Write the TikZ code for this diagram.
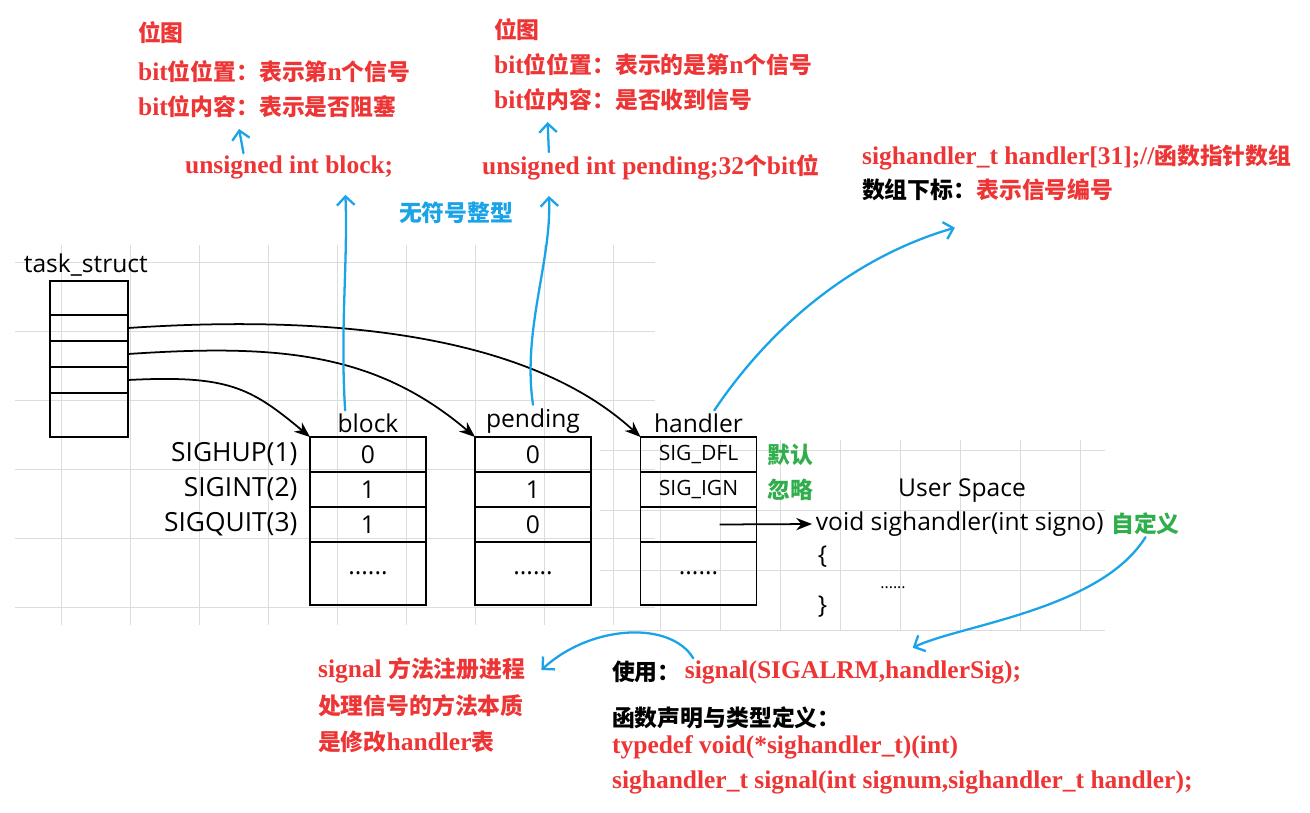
\documentclass[tikz,border=0pt]{standalone}
\usepackage{fontspec}
\setmainfont{Liberation Serif}
\newfontfamily\zhfont{Noto Sans CJK SC}
\newfontfamily\handfont{Open Sans}
\usetikzlibrary{arrows.meta,positioning,calc}
\definecolor{sigred}{HTML}{EE3535}
\definecolor{penblue}{HTML}{1AA3E6}
\definecolor{okgreen}{HTML}{2FAE4B}
\definecolor{gridgray}{HTML}{DCDCDC}
\newcommand{\zh}[1]{{\zhfont\bfseries\fontsize{13}{15}\selectfont #1}}
\tikzset{
  hand/.style={font=\handfont\fontsize{14}{16}\selectfont, inner sep=2pt},
  siglbl/.style={hand, font=\handfont\fontsize{15}{17}\selectfont},
  cell/.style={hand, draw, line width=0.9pt, minimum width=2.32cm, minimum height=0.7cm,
               inner sep=0pt, outer sep=0pt},
  tsrow/.style={draw, line width=0.9pt, minimum width=1.56cm, inner sep=0pt, outer sep=0pt},
  note/.style={font=\bfseries\fontsize{14.5}{16}\selectfont, text=sigred, anchor=west, inner sep=1pt},
  blknote/.style={note, text=black},
  bluenote/.style={note, text=penblue},
  greennote/.style={font=\fontsize{13}{15}\selectfont, text=okgreen, inner sep=1pt},
  ptr/.style={-{Stealth[length=9pt,width=7pt]}, line width=1pt},
  pen/.style={-{Straight Barb[length=5pt,width=10pt]}, draw=penblue, line width=1.3pt, line cap=round},
  gridline/.style={draw=gridgray, line width=0.5pt}
}
\begin{document}
\begin{tikzpicture}[x=0.02cm,y=-0.02cm]
\useasboundingbox (0,0) rectangle (1310,812);
% background grid
\foreach \gx in {61,130,...,650} \draw[gridline] (\gx,245) -- (\gx,625);
\foreach \gy in {262,331,...,620} \draw[gridline] (15,\gy) -- (655,\gy);
\foreach \gx in {660,720,...,1100} \draw[gridline] (\gx,440) -- (\gx,630);
\foreach \gy in {450,510,...,630} \draw[gridline] (600,\gy) -- (1105,\gy);

% task_struct
\node[hand, anchor=west] (tslbl) at (20,265) {task\_struct};
\node[tsrow, minimum height=0.68cm] (ts1) at (89,298) {};
\node[tsrow, minimum height=0.52cm, below=0pt of ts1] (ts2) {};
\node[tsrow, minimum height=0.52cm, below=0pt of ts2] (ts3) {};
\node[tsrow, minimum height=0.52cm, below=0pt of ts3] (ts4) {};
\node[tsrow, minimum height=0.88cm, below=0pt of ts4] (ts5) {};

% block / pending / handler tables
\node[cell] (b1) at (368,454.5) {0};
\node[cell, below=0pt of b1] (b2) {1};
\node[cell, below=0pt of b2] (b3) {1};
\node[cell, below=0pt of b3, minimum height=1.26cm] (b4) {......};
\node[cell] (p1) at (533,454.5) {0};
\node[cell, below=0pt of p1] (p2) {1};
\node[cell, below=0pt of p2] (p3) {0};
\node[cell, below=0pt of p3, minimum height=1.26cm] (p4) {......};
\node[cell, font=\handfont\fontsize{12}{14}\selectfont] (h1) at (698.5,454.5) {SIG\_DFL};
\node[cell, font=\handfont\fontsize{12}{14}\selectfont, below=0pt of h1] (h2) {SIG\_IGN};
\node[cell, below=0pt of h2] (h3) {};
\node[cell, below=0pt of h3, minimum height=1.26cm] (h4) {......};
\node[hand, above=0pt of b1] (blklbl) {block};
\node[hand, above=0pt of p1] (pndlbl) {pending};
\node[hand, above=0pt of h1] (hdllbl) {handler};
\node[siglbl, left=5pt of b1] (sighup) {SIGHUP(1)};
\node[siglbl, left=5pt of b2] (sigint) {SIGINT(2)};
\node[siglbl, left=5pt of b3] (sigquit) {SIGQUIT(3)};
\node[greennote, right=5pt of h1] (dflnote) {\zh{默认}};
\node[greennote, right=5pt of h2] (ignnote) {\zh{忽略}};

% user space handler
\node[hand] (uspace) at (962,491) {User Space};
\node[hand, anchor=west] (sigfn) at (812,524) {void sighandler(int signo)};
\node[greennote, right=1pt of sigfn] (zdy) {\zh{自定义}};
\node[hand, anchor=west] (lbrace) at (814,557) {\{};
\node[hand, font=\handfont\fontsize{9}{11}\selectfont] (fbody) at (893,588) {......};
\node[hand, anchor=west] (rbrace) at (814,607) {\}};

\draw[ptr] (ts2.east) .. controls +(180,-12) and +(-120,-110) .. (h1.north west);
\draw[ptr] (ts3.east) .. controls +(150,-10) and +(-100,-85) .. (p1.north west);
\draw[ptr] (ts4.east) .. controls +(100,-5) and +(-60,-50) .. (b1.north west);
\draw[ptr] ([xshift=12pt]h3.center) -- (sigfn.west);

% notes above the tables
\node[note] (bmap) at (136,33) {\zh{位图}};
\node[note] (bpos) at (136,72) {bit\zh{位位置：表示第}n\zh{个信号}};
\node[note] (bcont) at (136,107) {bit\zh{位内容：表示是否阻塞}};
\node[note] (bdecl) at (183,167) {unsigned int block;};
\node[note] (pmap) at (492,30) {\zh{位图}};
\node[note] (ppos) at (492,65) {bit\zh{位位置：表示的是第}n\zh{个信号}};
\node[note] (pcont) at (492,100) {bit\zh{位内容：是否收到信号}};
\node[note] (pdecl) at (480,167) {unsigned int pending;32\zh{个}bit\zh{位}};
\node[bluenote] (unsg) at (397,213) {\zh{无符号整型}};
\node[note] (hdecl) at (860,157) {sighandler\_t handler[31];//\zh{函数指针数组}};
\node[blknote] (hidx) at (860,190) {\zh{数组下标：}\textcolor{sigred}{\zh{表示信号编号}}};

% notes below
\node[note] (reg1) at (316,670) {signal \zh{方法注册进程}};
\node[note] (reg2) at (316,706) {\zh{处理信号的方法本质}};
\node[note] (reg3) at (316,742) {\zh{是修改}handler\zh{表}};
\node[blknote] (uselbl) at (610,672) {\zh{使用：}};
\node[note, right=0pt of uselbl] (usecall) {signal(SIGALRM,handlerSig);};
\node[blknote] (decllbl) at (610,718) {\zh{函数声明与类型定义：}};
\node[note] (tdef) at (610,747) {typedef void(*sighandler\_t)(int)};
\node[note] (sigproto) at (610,782) {sighandler\_t signal(int signum,sighandler\_t handler);};

% blue pen marks
\draw[pen] ([xshift=-13pt]blklbl.north) .. controls (340,330) and (348,260) .. ([xshift=32pt,yshift=-8pt]bdecl.south);
\draw[pen] ([xshift=-26pt]bdecl.north) -- ([xshift=-16pt,yshift=-5pt]bcont.south);
\draw[pen] ([xshift=0pt]pndlbl.north) .. controls (522,330) and (552,260) .. ([xshift=-58pt,yshift=-8pt]pdecl.south);
\draw[pen] ([xshift=-58pt]pdecl.north) -- ([xshift=-43pt,yshift=-5pt]pcont.south);
\draw[pen] ([xshift=9pt]hdllbl.north) .. controls (775,320) and (860,255) .. ([xshift=54pt,yshift=-14pt]hidx.south west);
\draw[pen] (zdy.south) .. controls (1100,610) and (960,625) .. ([xshift=34pt,yshift=6pt]usecall.north);
\draw[pen] ([xshift=6pt]usecall.north west) .. controls (670,620) and (590,625) .. ([xshift=8pt]reg1.east);
\end{tikzpicture}
\end{document}
